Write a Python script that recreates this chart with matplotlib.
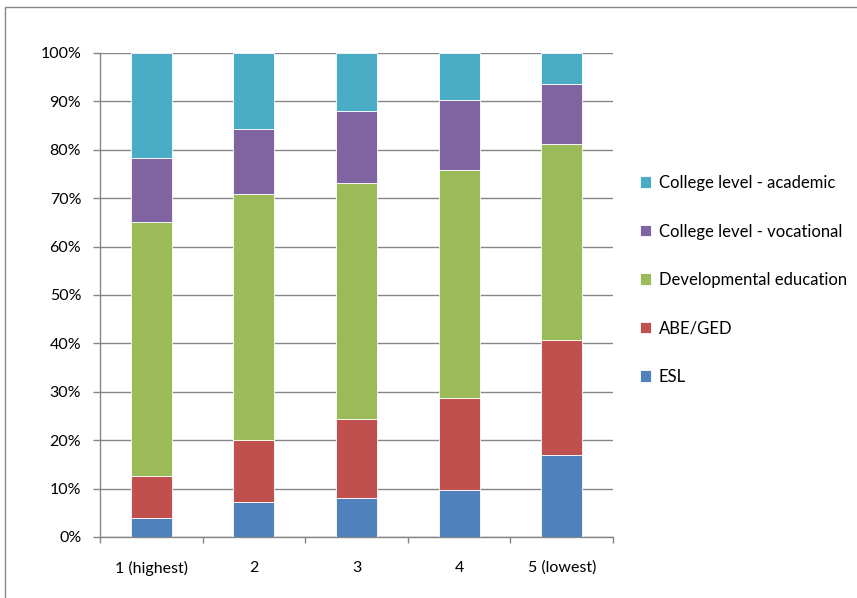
import matplotlib
matplotlib.use("Agg")
import matplotlib.pyplot as plt
from matplotlib.patches import Rectangle
from matplotlib.ticker import FuncFormatter, MultipleLocator
import numpy as np

categories = ["1 (highest)", "2", "3", "4", "5 (lowest)"]
series_names = ["ESL", "ABE/GED", "Developmental education",
                "College level - vocational", "College level - academic"]
# cumulative tops (%)
esl = [4.0, 7.2, 8.1, 9.8, 16.9]
abe_top = [12.6, 20.0, 24.4, 28.8, 40.7]
dev_top = [65.0, 70.9, 73.2, 75.8, 81.2]
voc_top = [78.4, 84.3, 88.1, 90.3, 93.6]
acad_top = [100, 100, 100, 100, 100]
colors = ["#4F81BD", "#C0504D", "#9BBB59", "#8064A2", "#4BACC6"]

tops = [esl, abe_top, dev_top, voc_top, acad_top]
values = [np.array(tops[0], float)]
for i in range(1, len(tops)):
    values.append(np.array(tops[i], float) - np.array(tops[i - 1], float))

plt.rcParams['font.family'] = ['Lato', 'DejaVu Sans']
fig = plt.figure(figsize=(8.57, 5.98), dpi=100)
ax = fig.add_axes([100/857, 61/598, 513/857, 484/598])

x = np.arange(len(categories))
bottom = np.zeros(len(categories))
handles = []
for name, vals, c in zip(series_names, values, colors):
    b = ax.bar(x, vals, 0.4, bottom=bottom, color=c, edgecolor="white",
               linewidth=0.6, label=name, zorder=3)
    handles.append(b)
    bottom += vals

ax.set_xlim(-0.5, len(categories) - 0.5)
ax.set_ylim(0, 100)
ax.yaxis.set_major_locator(MultipleLocator(10))
ax.yaxis.set_major_formatter(FuncFormatter(lambda v, p: f"{int(round(v))}%"))
ax.set_xticks(x)
ax.set_xticklabels(categories)
ax.set_xticks(np.arange(-0.5, len(categories), 1.0), minor=True)
ax.tick_params(axis='x', which='major', length=0, pad=17, labelsize=11.5, colors='black')
ax.tick_params(axis='x', which='minor', length=4, color='#868686', width=1, direction='out')
ax.tick_params(axis='y', length=5, color='#868686', width=1, pad=8.5, labelsize=11.5)
ax.grid(axis='y', color='#868686', linewidth=1, zorder=0)
for s in ['top', 'right']:
    ax.spines[s].set_visible(False)
for s in ['left', 'bottom']:
    ax.spines[s].set_color('#868686')
    ax.spines[s].set_linewidth(1)

leg = fig.legend(handles[::-1], series_names[::-1], loc='upper left',
                 bbox_to_anchor=(625/857, 1 - 160/598), frameon=False,
                 fontsize=12, handlelength=0.67, handleheight=0.67,
                 handletextpad=0.45, labelspacing=1.95)

fig.patches.append(Rectangle((5/857, -0.1), 1.2, 1 - 7/598 + 0.1,
                             transform=fig.transFigure, fill=False,
                             edgecolor='#868686', linewidth=1))

fig.savefig("out.png", dpi=100)
